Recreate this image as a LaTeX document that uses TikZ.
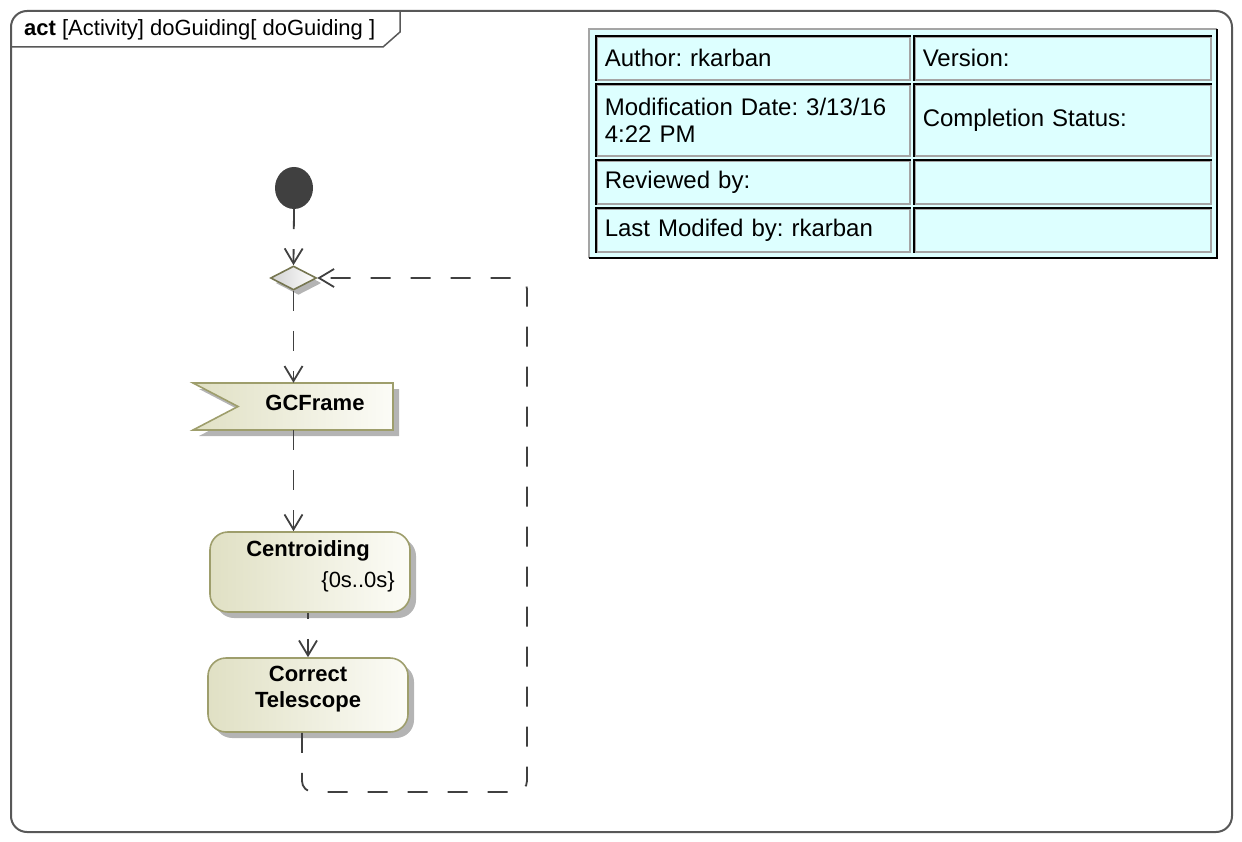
\documentclass[tikz,border=0pt]{standalone}
\usepackage{fontspec}
\setmainfont{Liberation Sans}
\frenchspacing
\usetikzlibrary{arrows.meta,shapes.geometric,shadows}
\definecolor{edgec}{RGB}{64,64,64}
\definecolor{olivec}{RGB}{158,158,108}
\definecolor{fillL}{RGB}{224,224,196}
\definecolor{fillR}{RGB}{252,252,247}
\definecolor{shadc}{RGB}{180,180,180}
\definecolor{cellc}{RGB}{221,255,255}
\definecolor{cellgray}{RGB}{165,165,165}
\definecolor{framec}{RGB}{88,88,88}
\newcommand{\dfont}{\fontsize{22}{26}\selectfont}
\newcommand{\tfont}{\fontsize{24}{27}\selectfont}
\tikzset{
  flow/.style={draw=edgec, line width=1.8pt, dash pattern=on 20pt off 20pt,
    -{Straight Barb[length=15pt,width=18pt,line width=1.8pt]}},
  action/.style={rectangle, rounded corners=18pt, draw=olivec, line width=1.6pt,
    left color=fillL, right color=fillR, minimum width=200pt, inner sep=0pt,
    drop shadow={shadow xshift=6pt, shadow yshift=-6pt, fill=shadc, opacity=1}},
  lbl/.style={inner sep=0pt, font=\dfont},
  cell/.style={rectangle, draw=cellgray, line width=1.6pt, fill=cellc, align=left,
    inner xsep=8pt, inner ysep=0pt, font=\tfont, anchor=north west},
}
\begin{document}
\begin{tikzpicture}[x=1pt,y=-1pt]
\useasboundingbox (0,0) rectangle (1242,842);
% outer frame
\draw[framec, line width=2pt, rounded corners=16pt] (11,11) rectangle (1232,832);
\draw[framec, line width=1.5pt] (11,47) -- (383,47) -- (400,32) -- (400,11);
\node[lbl, anchor=base west] (title) at (24,36) {\textbf{act} [Activity] doGuiding[ doGuiding ]};

% initial node
\node[ellipse, fill=edgec, minimum width=38pt, minimum height=42pt, inner sep=0pt] (init) at (294,188) {};
% merge node
\node[diamond, draw=olivec!75!black, line width=1.6pt, left color=gray!35, right color=white,
  minimum width=46pt, minimum height=24pt, inner sep=0pt,
  drop shadow={shadow xshift=5pt, shadow yshift=-5pt, fill=shadc, opacity=1}] (merge) at (293.5,278) {};

% accept event GCFrame
\fill[shadc] (199,389) -- (399,389) -- (399,436) -- (199,436) -- (244,412.5) -- cycle;
\draw[olivec, line width=1.6pt, left color=fillL, right color=fillR]
  (193,383) -- (393,383) -- (393,430) -- (193,430) -- (238,406.5) -- cycle;
\node[minimum width=200pt, minimum height=47pt, inner sep=0pt] (gcf) at (293,406.5) {};
\node[lbl, font=\dfont\bfseries] (gcftxt) at (315,403) {GCFrame};

% actions
\node[action, minimum height=80pt] (cen) at (310,572) {};
\node[lbl, font=\dfont\bfseries] (centxt) at (308,551) {Centroiding};
\node[lbl, anchor=east] (cendur) at (395,582) {\{0s..0s\}};

\node[action, minimum height=74pt] (ct) at (308,695) {};
\node[lbl, font=\dfont\bfseries, align=center] (cttxt) at (308,689) {Correct\\Telescope};

% flows
\draw[flow] (init.south) -- (merge.north);
\draw[flow] (merge.south) -- (merge.south |- gcf.north);
\draw[flow] (gcf.south -| merge.south) -- (merge.south |- cen.north);
\draw[flow, dash phase=14pt] (ct.north |- cen.south) -- (ct.north);
\coordinate (loopstart) at ([xshift=-6pt]ct.south);
\coordinate (loopbl) at (302,792);
\coordinate (loopbr) at (527,792);
\coordinate (looptr) at (527,278);
\draw[flow, rounded corners=11pt] (loopstart) -- (loopbl) -- (loopbr) -- (looptr) -- (merge.east);

% table
\fill[cellc] (589,29) rectangle (1217,258);
\draw[cellgray, line width=1.6pt] (589,258) -- (589,29) -- (1217,29);
\draw[black, line width=2pt] (1217,29) -- (1217,258) -- (589,258);
\node[cell, minimum width=313pt, text width=297pt, minimum height=43pt] (c11) at (596,36) {Author: rkarban};
\node[cell, minimum width=296pt, text width=280pt, minimum height=43pt] (c12) at (914,36) {Version:};
\node[cell, minimum width=313pt, text width=297pt, minimum height=71pt] (c21) at (596,84) {Modification Date: 3/13/16\\4:22 PM};
\node[cell, minimum width=296pt, text width=280pt, minimum height=71pt] (c22) at (914,84) {Completion Status:};
\node[cell, minimum width=313pt, text width=297pt, minimum height=43pt] (c31) at (596,160) {Reviewed by:};
\node[cell, minimum width=296pt, text width=280pt, minimum height=43pt] (c32) at (914,160) {};
\node[cell, minimum width=313pt, text width=297pt, minimum height=43pt] (c41) at (596,208) {Last Modifed by: rkarban};
\node[cell, minimum width=296pt, text width=280pt, minimum height=43pt] (c42) at (914,208) {};
\foreach \n in {c11,c12,c21,c22,c31,c32,c41,c42}
  \draw[black, line width=1.8pt] (\n.south west) -- (\n.north west) -- (\n.north east);
\end{tikzpicture}
\end{document}
